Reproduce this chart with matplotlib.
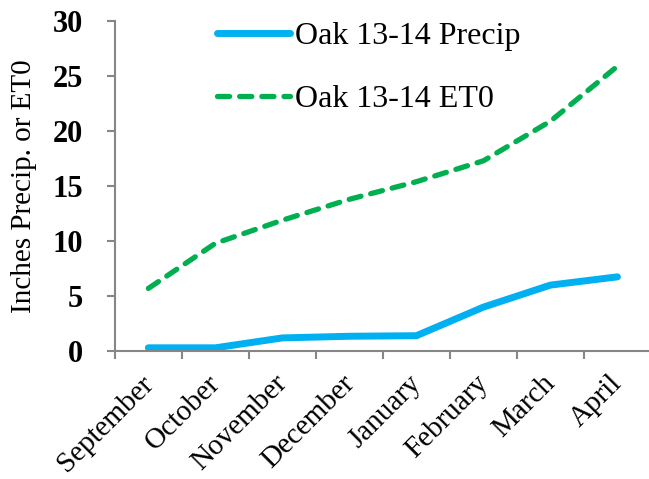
import matplotlib.pyplot as plt
import matplotlib.transforms as mtransforms
import numpy as np

months = ['September', 'October', 'November', 'December', 'January',
          'February', 'March', 'April']
precip = [0.3, 0.3, 1.2, 1.35, 1.4, 4.0, 6.0, 6.75]
et0 = [5.7, 9.8, 11.9, 13.8, 15.4, 17.3, 20.9, 25.9]

plt.rcParams['font.family'] = ['Liberation Serif', 'DejaVu Serif']

fig = plt.figure(figsize=(6.49, 4.79), dpi=100)
ax = fig.add_axes([0.177, 0.267, 0.826, 0.689])

x = np.arange(len(months))
ax.plot(x, precip, color='#00b0f0', lw=5, solid_capstyle='round',
        label='Oak 13-14 Precip')
ax.plot(x, et0, color='#00b050', lw=3.8, ls=(0, (2.3, 1.9)),
        dash_capstyle='round', label='Oak 13-14 ET0')

ax.set_xlim(-0.5, len(months) - 0.5)
ax.set_ylim(0, 30)
ax.set_yticks(range(0, 31, 5))
ax.set_yticklabels([str(v) for v in range(0, 31, 5)],
                   fontsize=22, fontweight='bold')
ax.set_xticks(x)
ax.set_xticklabels(months, rotation=45, ha='right', rotation_mode='anchor',
                   fontsize=21)
ax.set_xticks(np.arange(-0.5, len(months)), minor=True)
ax.tick_params(axis='x', which='major', length=0, pad=14)
ax.tick_params(axis='x', which='minor', length=6, color='#868686', width=1.5)
ax.tick_params(axis='y', length=6, color='#868686', width=1.5, pad=17)

# nudge the slanted month names a little to the left
shift = mtransforms.ScaledTranslation(-6 / 72, 0, fig.dpi_scale_trans)
for lbl in ax.xaxis.get_majorticklabels():
    lbl.set_transform(lbl.get_transform() + shift)

ax.set_ylabel('Inches Precip. or ET0', fontsize=21)
ax.yaxis.set_label_coords(-0.145, 0.5)

for side in ('top', 'right'):
    ax.spines[side].set_visible(False)
for side in ('left', 'bottom'):
    ax.spines[side].set_color('#868686')
    ax.spines[side].set_linewidth(1.5)

fig.legend(loc='upper left', bbox_to_anchor=(0.334, 0.955), frameon=False,
           fontsize=23, handlelength=2.3, handletextpad=0.15,
           labelspacing=1.07, borderpad=0, borderaxespad=0)

fig.savefig('out.png', dpi=100)
